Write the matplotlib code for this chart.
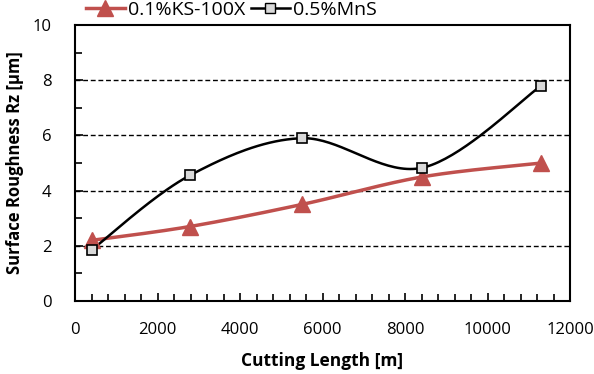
import numpy as np
import matplotlib
matplotlib.use("Agg")
import matplotlib.pyplot as plt
from matplotlib.lines import Line2D
from matplotlib.ticker import MultipleLocator

cutting_length = [400, 2780, 5500, 8420, 11300]
ks100x = [2.2, 2.7, 3.5, 4.5, 5.0]
mns = [1.85, 4.55, 5.9, 4.83, 7.8]
labels = ["0.1%KS-100X", "0.5%MnS"]

plt.rcParams['font.family'] = ['Open Sans', 'DejaVu Sans']

def smooth(x, y, n=40):
    # Catmull-Rom style smoothing (as used by spreadsheet "smoothed line")
    x = np.asarray(x, float); y = np.asarray(y, float)
    px = np.concatenate([[x[0]], x, [x[-1]]])
    py = np.concatenate([[y[0]], y, [y[-1]]])
    xs, ys = [], []
    for i in range(1, len(px) - 2):
        p0 = np.array([px[i-1], py[i-1]]); p1 = np.array([px[i], py[i]])
        p2 = np.array([px[i+1], py[i+1]]); p3 = np.array([px[i+2], py[i+2]])
        c1 = p1 + (p2 - p0) / 6.0
        c2 = p2 - (p3 - p1) / 6.0
        t = np.linspace(0, 1, n)[:, None]
        b = ((1-t)**3)*p1 + 3*((1-t)**2)*t*c1 + 3*(1-t)*t**2*c2 + t**3*p2
        xs.extend(b[:, 0]); ys.extend(b[:, 1])
    return np.array(xs), np.array(ys)

fig = plt.figure(figsize=(5.94, 3.74), dpi=100)
ax = fig.add_axes([0.1263, 0.195, 0.8333, 0.738])

red = '#C0504D'
sx, sy = smooth(cutting_length, ks100x)
ax.plot(sx, sy, color=red, lw=2.5, zorder=3)
ax.plot(cutting_length, ks100x, ls='none', marker='^', ms=11, color=red, zorder=4)
sx, sy = smooth(cutting_length, mns)
ax.plot(sx, sy, color='black', lw=1.8, zorder=3)
ax.plot(cutting_length, mns, ls='none', marker='s', ms=7, mfc='#D9D9D9', mec='black', mew=1.2, zorder=5)

ax.set_xlim(0, 12000)
ax.set_ylim(0, 10)
ax.xaxis.set_major_locator(MultipleLocator(2000))
ax.xaxis.set_minor_locator(MultipleLocator(400))
ax.yaxis.set_major_locator(MultipleLocator(2))
ax.yaxis.set_minor_locator(MultipleLocator(1))
ax.tick_params(which='both', direction='in', top=False, right=False, width=1.2, labelsize=12)
ax.tick_params(which='major', length=6)
ax.tick_params(which='minor', length=5)
ax.tick_params(axis='x', pad=15)
ax.tick_params(axis='y', pad=17)
for s in ax.spines.values():
    s.set_linewidth(1.5)
for v in [2, 4, 6, 8]:
    ax.axhline(v, color='black', ls=(0, (3.5, 2)), lw=1.0, zorder=1)

ax.set_xlabel('Cutting Length [m]', fontsize=12.5, fontweight='bold', labelpad=10)
ax.set_ylabel('Surface Roughness Rz [μm]', fontsize=12, fontweight='bold', labelpad=6)

handles = [Line2D([], [], color=red, lw=2.5, marker='^', ms=11),
           Line2D([], [], color='black', lw=1.8, marker='s', ms=7, mfc='#D9D9D9', mec='black')]
fig.legend(handles, labels, loc='upper left', bbox_to_anchor=(0.115, 1.045), ncol=2,
           frameon=False, fontsize=14, handlelength=2.0, handletextpad=0.15, columnspacing=0.3)

fig.savefig('out.png', dpi=100)
